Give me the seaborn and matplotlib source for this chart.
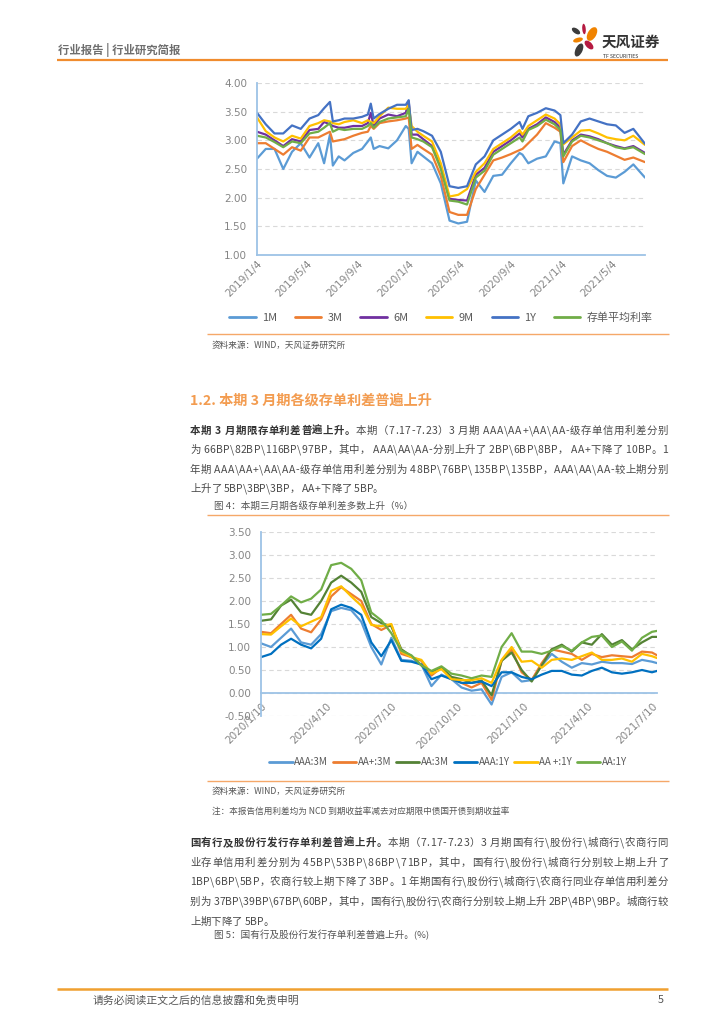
import numpy as np
import pandas as pd
import matplotlib
matplotlib.use('Agg')
import matplotlib.pyplot as plt
import seaborn as sns
from matplotlib.font_manager import FontProperties
from matplotlib.patches import Ellipse

sns.set_theme(style='white')
FONT = ['Noto Sans CJK SC', 'DejaVu Sans']
plt.rcParams['font.family'] = FONT
plt.rcParams['axes.unicode_minus'] = False

# ---------------- data: chart 1 (weekly, weeks since 2019-01-04) ----------------
start1 = '2019-01-04'
weeks1 = [0, 3, 6, 9, 12, 15, 18, 21, 23, 25, 26, 28, 30, 33, 36, 38, 39, 40, 42, 45,
          48, 51, 52, 53, 55, 57, 60, 63, 66, 69, 72, 75, 78, 81, 84, 87, 90, 91, 93, 96,
          99, 102, 104, 105, 108, 111, 114, 117, 120, 123, 126, 129, 133]
m1 = [2.68, 2.85, 2.85, 2.50, 2.80, 2.95, 2.70, 2.95, 2.60, 3.10,
      2.56, 2.72, 2.65, 2.78, 2.85, 2.98, 3.05, 2.85, 2.90, 2.86,
      3.00, 3.25, 3.20, 2.60, 2.80, 2.72, 2.60, 2.25, 1.60, 1.55,
      1.58, 2.30, 2.10, 2.38, 2.40, 2.60, 2.78, 2.75, 2.60, 2.68,
      2.72, 2.98, 2.95, 2.25, 2.72, 2.65, 2.60, 2.48, 2.38, 2.35,
      2.45, 2.58, 2.35]
m3 = [2.95, 2.95, 2.85, 2.75, 2.88, 2.82, 3.05, 3.05, 3.10, 3.15,
      2.98, 3.00, 3.02, 3.08, 3.13, 3.15, 3.25, 3.20, 3.30, 3.33,
      3.35, 3.38, 3.40, 2.85, 2.92, 2.85, 2.75, 2.38, 1.75, 1.70,
      1.70, 2.15, 2.40, 2.65, 2.70, 2.76, 2.83, 2.85, 2.95, 3.10,
      3.30, 3.22, 3.15, 2.62, 2.90, 3.00, 2.92, 2.85, 2.80, 2.73,
      2.66, 2.70, 2.62]
m6 = [3.15, 3.10, 3.00, 2.90, 3.02, 2.98, 3.18, 3.20, 3.32, 3.28,
      3.25, 3.22, 3.22, 3.25, 3.25, 3.30, 3.48, 3.25, 3.38, 3.45,
      3.42, 3.48, 3.68, 3.10, 3.10, 3.02, 2.90, 2.55, 1.98, 1.96,
      1.95, 2.40, 2.52, 2.80, 2.90, 3.00, 3.12, 3.05, 3.20, 3.28,
      3.40, 3.32, 3.22, 2.75, 3.00, 3.10, 3.07, 3.02, 2.95, 2.90,
      2.86, 2.90, 2.78]
m9 = [3.40, 3.16, 3.05, 2.98, 3.08, 3.03, 3.25, 3.30, 3.35, 3.33,
      3.30, 3.28, 3.32, 3.35, 3.30, 3.35, 3.32, 3.30, 3.42, 3.57,
      3.55, 3.55, 3.62, 3.25, 3.15, 3.08, 2.98, 2.60, 2.02, 2.05,
      2.15, 2.45, 2.60, 2.85, 2.95, 3.05, 3.18, 3.10, 3.25, 3.35,
      3.45, 3.38, 3.28, 2.93, 3.05, 3.17, 3.18, 3.12, 3.05, 3.02,
      3.00, 3.08, 2.92]
y1 = [3.48, 3.28, 3.12, 3.12, 3.26, 3.20, 3.38, 3.44, 3.56, 3.67,
      3.33, 3.35, 3.38, 3.38, 3.41, 3.45, 3.64, 3.38, 3.46, 3.55,
      3.62, 3.62, 3.70, 3.18, 3.20, 3.16, 3.08, 2.80, 2.20, 2.17,
      2.20, 2.58, 2.72, 3.00, 3.10, 3.20, 3.32, 3.20, 3.42, 3.48,
      3.56, 3.52, 3.44, 2.95, 3.10, 3.33, 3.38, 3.33, 3.28, 3.26,
      3.13, 3.20, 2.94]
avg = [3.08, 3.05, 2.97, 2.88, 2.98, 2.95, 3.12, 3.15, 3.22, 3.30,
       3.15, 3.20, 3.18, 3.20, 3.20, 3.25, 3.30, 3.22, 3.32, 3.38,
       3.40, 3.42, 3.55, 3.05, 3.02, 2.98, 2.88, 2.50, 1.95, 1.93,
       1.88, 2.35, 2.47, 2.75, 2.85, 2.95, 3.05, 2.98, 3.18, 3.25,
       3.36, 3.28, 3.18, 2.72, 2.98, 3.08, 3.05, 3.00, 2.95, 2.88,
       2.85, 2.88, 2.76]
names1 = ['1M', '3M', '6M', '9M', '1Y', '存单平均利率']
colors1 = ['#5B9BD5', '#ED7D31', '#7030A0', '#FFC000', '#4472C4', '#70AD47']
xticks1 = ['2019/1/4', '2019/5/4', '2019/9/4', '2020/1/4', '2020/5/4', '2020/9/4', '2021/1/4', '2021/5/4']
yticks1 = [1.00, 1.50, 2.00, 2.50, 3.00, 3.50, 4.00]

# ---------------- data: chart 2 (weekly, weeks since 2020-01-10) ----------------
start2 = '2020-01-10'
weeks2 = [0, 2, 4, 6, 8, 10, 12, 14, 16, 18, 20, 22, 24, 26, 28, 30, 32, 34, 36, 38,
          40, 42, 44, 46, 48, 50, 52, 54, 56, 58, 60, 62, 64, 66, 68, 70, 72, 74, 76, 78, 79]
aaa3m = [1.08, 1.00, 1.20, 1.40, 1.10, 1.05, 1.28, 1.78, 1.85, 1.80,
         1.55, 1.00, 0.62, 1.20, 0.72, 0.70, 0.62, 0.15, 0.40, 0.30,
         0.12, 0.05, 0.08, -0.25, 0.35, 0.45, 0.25, 0.28, 0.60, 0.85,
         0.68, 0.55, 0.65, 0.62, 0.68, 0.65, 0.65, 0.63, 0.72, 0.68, 0.65]
aap3m = [1.33, 1.30, 1.50, 1.70, 1.40, 1.32, 1.60, 2.10, 2.30, 2.15,
         2.00, 1.50, 1.37, 1.48, 0.85, 0.78, 0.70, 0.38, 0.55, 0.32,
         0.22, 0.12, 0.22, -0.15, 0.70, 0.95, 0.45, 0.28, 0.65, 0.95,
         0.90, 0.85, 0.72, 0.85, 0.78, 0.82, 0.80, 0.78, 0.90, 0.88, 0.82]
aa3m = [1.57, 1.60, 1.90, 2.03, 1.75, 1.70, 2.00, 2.40, 2.55, 2.40,
        2.20, 1.65, 1.52, 1.45, 0.95, 0.80, 0.60, 0.45, 0.55, 0.35,
        0.30, 0.22, 0.27, -0.05, 0.70, 0.88, 0.50, 0.25, 0.60, 0.95,
        1.05, 0.90, 1.10, 1.05, 1.28, 1.05, 1.15, 0.95, 1.10, 1.22, 1.22]
aaa1y = [0.78, 0.85, 1.05, 1.18, 1.05, 0.97, 1.18, 1.82, 1.92, 1.85,
         1.70, 1.10, 0.80, 1.15, 0.70, 0.68, 0.62, 0.30, 0.38, 0.30,
         0.22, 0.22, 0.25, 0.15, 0.45, 0.45, 0.35, 0.30, 0.40, 0.48,
         0.48, 0.40, 0.38, 0.48, 0.55, 0.45, 0.42, 0.45, 0.50, 0.45, 0.48]
aap1y = [1.28, 1.27, 1.45, 1.62, 1.45, 1.55, 1.65, 2.22, 2.32, 2.10,
         1.90, 1.48, 1.45, 1.50, 0.90, 0.78, 0.72, 0.42, 0.52, 0.30,
         0.28, 0.28, 0.32, 0.22, 0.72, 1.00, 0.68, 0.70, 0.55, 0.72,
         0.75, 0.72, 0.80, 0.88, 0.72, 0.72, 0.75, 0.68, 0.85, 0.80, 0.76]
aa1y = [1.70, 1.72, 1.90, 2.10, 1.97, 2.05, 2.25, 2.78, 2.83, 2.70,
        2.45, 1.75, 1.58, 1.30, 0.92, 0.82, 0.60, 0.48, 0.58, 0.42,
        0.38, 0.32, 0.38, 0.35, 1.00, 1.30, 0.90, 0.90, 0.85, 0.92,
        1.02, 0.92, 1.10, 1.22, 1.25, 1.00, 1.12, 0.92, 1.20, 1.33, 1.35]
names2 = ['AAA:3M', 'AA+:3M', 'AA:3M', 'AAA:1Y', 'AA +:1Y', 'AA:1Y']
colors2 = ['#5B9BD5', '#ED7D31', '#548235', '#0070C0', '#FFC000', '#70AD47']
xticks2 = ['2020/1/10', '2020/4/10', '2020/7/10', '2020/10/10', '2021/1/10', '2021/4/10', '2021/7/10']
yticks2 = [-0.50, 0.00, 0.50, 1.00, 1.50, 2.00, 2.50, 3.00, 3.50]

# ---------------- texts ----------------
header_txt = '行业报告 | 行业研究简报'
logo_cn = '天风证券'
logo_en = 'TF SECURITIES'
source_txt = '资料来源：WIND，天风证券研究所'
note_txt = '注：本报告信用利差均为 NCD 到期收益率减去对应期限中债国开债到期收益率'
section_title = '1.2. 本期 3 月期各级存单利差普遍上升'
fig4_caption = '图 4：本期三月期各级存单利差多数上升（%）'
fig5_caption = '图 5：国有行及股份行发行存单利差普遍上升。(%)'
para1 = [
    [('本期 3 月期限存单利差普遍上升。', 'bold'), ('本期（7.17-7.23）3 月期 AAA\\AA+\\AA\\AA-级存单信用利差分别', 'normal')],
    [('为 66BP\\82BP\\116BP\\97BP，其中， AAA\\AA\\AA-分别上升了 2BP\\6BP\\8BP， AA+下降了 10BP。1', 'normal')],
    [('年期 AAA\\AA+\\AA\\AA-级存单信用利差分别为 48BP\\76BP\\135BP\\135BP，AAA\\AA\\AA-较上期分别', 'normal')],
    [('上升了 5BP\\3BP\\3BP， AA+下降了 5BP。', 'normal')],
]
para2 = [
    [('国有行及股份行发行存单利差普遍上升。', 'bold'), ('本期（7.17-7.23）3 月期国有行\\股份行\\城商行\\农商行同', 'normal')],
    [('业存单信用利差分别为 45BP\\53BP\\86BP\\71BP，其中，国有行\\股份行\\城商行分别较上期上升了', 'normal')],
    [('1BP\\6BP\\5BP，农商行较上期下降了 3BP。1 年期国有行\\股份行\\城商行\\农商行同业存单信用利差分', 'normal')],
    [('别为 37BP\\39BP\\67BP\\60BP，其中，国有行\\股份行\\农商行分别较上期上升 2BP\\4BP\\9BP。城商行较', 'normal')],
    [('上期下降了 5BP。', 'normal')],
]
footer_txt = '请务必阅读正文之后的信息披露和免责申明'
page_no = '5'

# ---------------- figure ----------------
W, H = 724, 1024
fig = plt.figure(figsize=(W / 100, H / 100), dpi=100)
fig.patch.set_facecolor('white')

ov = fig.add_axes([0, 0, 1, 1])
ov.set_xlim(0, W)
ov.set_ylim(H, 0)
ov.axis('off')

ORANGE = '#F08C2E'
ov.plot([57, 668], [60, 60], color=ORANGE, lw=1.6, solid_capstyle='butt')
ov.plot([57, 668], [989, 989], color='#F0A030', lw=1.8, solid_capstyle='butt')
ov.plot([207, 669], [334, 334], color='#F5A869', lw=1.0, solid_capstyle='butt')
ov.plot([207, 669], [515, 515], color='#F5A869', lw=1.0, solid_capstyle='butt')
ov.plot([207, 669], [781, 781], color='#F5A869', lw=1.0, solid_capstyle='butt')

ov.text(58, 50, header_txt, fontsize=8.2, color='#6E6E6E', fontweight='bold', va='center', ha='left')

# logo petals
petals = [((584, 29), 3.5, 10.5, -5, '#B51A41'),
          ((576, 31), 9.5, 5, 35, '#3C3C3C'),
          ((592, 34), 8.5, 15, 30, '#F08300'),
          ((578, 40), 10, 4.5, -15, '#F08300'),
          ((589, 45), 6, 11, -45, '#B51A41'),
          ((579, 50), 7, 14, 25, '#3C3C3C')]
for c, w_, h_, a_, col in petals:
    ov.add_patch(Ellipse(c, w_, h_, angle=a_, color=col, lw=0))
ov.text(602, 41.5, logo_cn, fontsize=10.5, color='#333333', fontweight='bold', va='center', ha='left')
ov.text(603, 56, logo_en, fontsize=3.7, color='#333333', va='center', ha='left')

ov.text(212, 345, source_txt, fontsize=6.2, color='#555555', va='center')
ov.text(190, 401, section_title, fontsize=10.2, color='#F39C50', fontweight='bold', va='center')
ov.text(214, 506, fig4_caption, fontsize=6.9, color='#555555', va='center')
ov.text(212, 791, source_txt, fontsize=6.2, color='#555555', va='center')
ov.text(212, 811, note_txt, fontsize=6.2, color='#555555', va='center')
ov.text(214, 935, fig5_caption, fontsize=6.9, color='#555555', va='center')
ov.text(93, 1000, footer_txt, fontsize=7.8, color='#555555', va='center')
ov.text(664, 1000, page_no, fontsize=7.8, color='#555555', va='center', ha='right')

# justified paragraph lines, drawn glyph by glyph
renderer = fig.canvas.get_renderer()
_cache = {}


def glyph_w(ch, prop, key):
    k = (ch, key)
    if k not in _cache:
        a = renderer.get_text_width_height_descent('|' + ch + '|', prop, ismath=False)[0]
        b = renderer.get_text_width_height_descent('||', prop, ismath=False)[0]
        _cache[k] = a - b
    return _cache[k]


def draw_line(segs, x0, yc, size=7.5, x1=None):
    items = []
    for s, wt in segs:
        prop = FontProperties(family=FONT, size=size, weight=wt)
        col = '#333333' if wt == 'bold' else '#4A4A4A'
        for ch in s:
            items.append((ch, prop, col, glyph_w(ch, prop, (wt, size))))
    total = sum(it[3] for it in items)
    gap = 0.0
    if x1 is not None and len(items) > 1:
        gap = (x1 - x0 - total) / (len(items) - 1)
    x = x0
    base = yc + size * 100 / 72 * 0.36
    for ch, prop, col, w in items:
        if ch != ' ':
            ov.text(x, base, ch, fontproperties=prop, color=col, va='baseline', ha='left')
        x += w + gap


ys1 = [430, 449, 469, 488]
for i, segs in enumerate(para1):
    draw_line(segs, 190, ys1[i], x1=668 if i < len(para1) - 1 else None)
ys2 = [842, 862, 881, 901, 921]
for i, segs in enumerate(para2):
    draw_line(segs, 190, ys2[i], x1=668 if i < len(para2) - 1 else None)

AXIS_BLUE = '#9DC3E6'
GRID = '#D9D9D9'
TICK = '#858585'


def style_axes(ax, yticks, xticks, xpad):
    ax.set_facecolor('none')
    ax.set_yticks(yticks)
    ax.set_yticklabels([f'{v:.2f}' for v in yticks])
    ax.set_xticks(pd.to_datetime(xticks, format='%Y/%m/%d'))
    ax.set_xticklabels(xticks, rotation=45, ha='right', va='top', rotation_mode='anchor')
    ax.yaxis.grid(True, ls=(0, (4, 3)), color=GRID, lw=0.8)
    ax.xaxis.grid(False)
    for s in ['top', 'right']:
        ax.spines[s].set_visible(False)
    ax.spines['left'].set_color(AXIS_BLUE)
    ax.spines['left'].set_linewidth(1.3)
    ax.spines['bottom'].set_color(AXIS_BLUE)
    ax.spines['bottom'].set_linewidth(1.3)
    ax.tick_params(axis='both', length=0, labelsize=7.5, labelcolor=TICK)
    ax.tick_params(axis='y', pad=7)
    ax.tick_params(axis='x', pad=xpad)
    for lab in ax.get_yticklabels() + ax.get_xticklabels():
        lab.set_fontfamily('DejaVu Sans')
    ax.set_xlabel('')
    ax.set_ylabel('')


# ---------------- chart 1 ----------------
dates1 = pd.Timestamp(start1) + pd.to_timedelta(np.array(weeks1) * 7, unit='D')
ax1 = fig.add_axes([257 / W, 1 - 255 / H, 388 / W, 172 / H])
for nm, vals, col in zip(names1, [m1, m3, m6, m9, y1, avg], colors1):
    sns.lineplot(x=dates1, y=vals, ax=ax1, color=col, lw=1.6, label=nm)
ax1.set_ylim(1, 4)
ax1.set_xlim(dates1[0], dates1[-1])
style_axes(ax1, yticks1, xticks1, 3)
h1, l1 = ax1.get_legend_handles_labels()
ax1.get_legend().remove()
leg1 = fig.legend(h1, l1, loc='center', bbox_to_anchor=(441 / W, 1 - 318 / H), ncol=6, frameon=False,
                  fontsize=7.9, handlelength=2.4, handletextpad=0.6, columnspacing=1.6)
for t in leg1.get_texts():
    t.set_color('#595959')
for ln in leg1.get_lines():
    ln.set_linewidth(2.0)

# ---------------- chart 2 ----------------
dates2 = pd.Timestamp(start2) + pd.to_timedelta(np.array(weeks2) * 7, unit='D')
ax2 = fig.add_axes([261 / W, 1 - 716 / H, 396 / W, 184 / H])
for nm, vals, col in zip(names2, [aaa3m, aap3m, aa3m, aaa1y, aap1y, aa1y], colors2):
    sns.lineplot(x=dates2, y=vals, ax=ax2, color=col, lw=1.6, label=nm)
ax2.spines['bottom'].set_position(('data', 0))
ax2.set_ylim(-0.5, 3.5)
ax2.set_xlim(dates2[0], dates2[-1])
style_axes(ax2, yticks2, xticks2, 6)
ax2.spines['bottom'].set_zorder(1)
h2, l2 = ax2.get_legend_handles_labels()
ax2.get_legend().remove()
leg2 = fig.legend(h2, l2, loc='center', bbox_to_anchor=(448 / W, 1 - 762 / H), ncol=6, frameon=False,
                  fontsize=7, handlelength=2.4, handletextpad=0.15, columnspacing=0.5)
for t in leg2.get_texts():
    t.set_color('#595959')
for ln in leg2.get_lines():
    ln.set_linewidth(2.0)

fig.savefig('out.png', dpi=100, facecolor='white')
